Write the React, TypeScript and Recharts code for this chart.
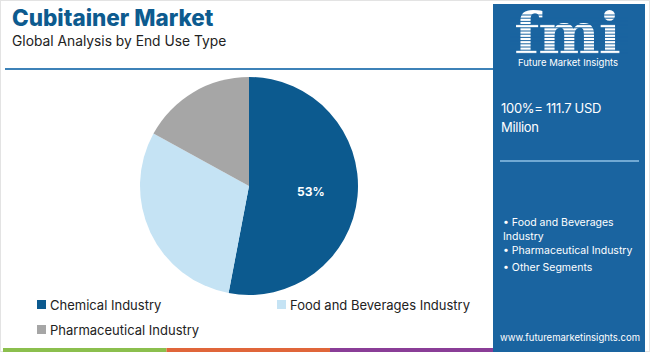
import React from "react";
import { PieChart, Pie, Cell, Legend } from "recharts";

const categories = ["Chemical Industry", "Food and Beverages Industry", "Pharmaceutical Industry"];
const shares = [53, 30, 17];
const colors = ["#0c5a8f", "#c5e3f4", "#a6a6a6"];
const panelBullets = ["Food and Beverages", "Industry", "Pharmaceutical Industry", "Other Segments"];
const bottomBars = ["#8bbf4d", "#e0663a", "#8a3d97"];

const data = categories.map((name, i) => ({ name, value: shares[i] }));

const PANEL = "#1a64a0";
const FONT = "Inter, 'Open Sans', sans-serif";

const RAD = Math.PI / 180;
const renderLabel = (props: any) => {
  const { cx, cy, midAngle, outerRadius, index, value } = props;
  if (index !== 0) return null;
  const r = outerRadius * 0.57;
  const x = cx + r * Math.cos(-midAngle * RAD);
  const y = cy + r * Math.sin(-midAngle * RAD);
  return (
    <text x={x} y={y} fill="#ffffff" fontSize={12} fontWeight={700} fontFamily={FONT} textAnchor="middle" dominantBaseline="central">
      {value}%
    </text>
  );
};

const LegendContent = () => {
  const pos = [
    { x: 37, y: 305 },
    { x: 277, y: 305 },
    { x: 37, y: 330 },
  ];
  return (
    <svg width={650} height={352} style={{ position: "absolute", left: 0, top: 0, pointerEvents: "none" }}>
      {categories.map((c, i) => (
        <g key={c}>
          <rect x={pos[i].x} y={pos[i].y - 5} width={9} height={9} fill={colors[i]} />
          <text x={pos[i].x + 13} y={pos[i].y} fontSize={13} fontFamily={FONT} fill="#222" dominantBaseline="central">
            {c}
          </text>
        </g>
      ))}
    </svg>
  );
};

const stripes: number[] = [];
for (let y = 15; y < 56; y += 3.2) stripes.push(y);

export default function App() {
  return (
    <div style={{ position: "fixed", left: 0, top: 0, width: 650, height: 352, background: "#fff", overflow: "hidden", fontFamily: FONT }}>
      <svg width={650} height={352} style={{ position: "absolute", left: 0, top: 0 }}>
        <rect x={0.5} y={0.5} width={649} height={351} fill="#fff" stroke="#e3e3e3" />
        <text x={12} y={26} fontSize={22.5} fontWeight={800} fill="#0d5b8f" fontFamily={FONT}>Cubitainer Market</text>
        <text x={12} y={46} fontSize={13.8} fill="#222" fontFamily={FONT}>Global Analysis by End Use Type</text>
        <line x1={5} y1={69} x2={493} y2={69} stroke="#3d82b8" strokeWidth={2} />
        {bottomBars.map((c, i) => (
          <rect key={c} x={3 + i * 163.5} y={348} width={163.5} height={4} fill={c} />
        ))}
        <rect x={493} y={4} width={152} height={348} fill={PANEL} />
        <text x={567} y={54} fontSize={58} fontWeight={700} fill="#fff" fontFamily="'DejaVu Serif', serif" textAnchor="middle" letterSpacing={-1}>fmi</text>
        {stripes.map((y) => (
          <line key={y} x1={510} y1={y} x2={628} y2={y} stroke={PANEL} strokeWidth={1} />
        ))}
        <text x={568} y={66} fontSize={9.5} fill="#fff" fontFamily={FONT} textAnchor="middle">Future Market Insights</text>
        <text x={501} y={113} fontSize={13} letterSpacing={-0.3} fill="#fff" fontFamily={FONT}>100%= 111.7 USD</text>
        <text x={501} y={132} fontSize={13} letterSpacing={-0.3} fill="#fff" fontFamily={FONT}>Million</text>
        <line x1={500} y1={161} x2={639} y2={161} stroke="#8fc0e6" strokeWidth={1.5} />
        <text x={503} y={226} fontSize={10.5} fill="#fff" fontFamily={FONT}>• {panelBullets[0]}</text>
        <text x={503} y={240} fontSize={10.5} fill="#fff" fontFamily={FONT}>{panelBullets[1]}</text>
        <text x={503} y={254} fontSize={10.5} fill="#fff" fontFamily={FONT}>• {panelBullets[2]}</text>
        <text x={503} y={271} fontSize={10.5} fill="#fff" fontFamily={FONT}>• {panelBullets[3]}</text>
        <text x={570} y={341} fontSize={9.5} fill="#fff" fontFamily={FONT} textAnchor="middle">www.futuremarketinsights.com</text>
      </svg>
      <div style={{ position: "absolute", left: 0, top: 0 }}>
        <PieChart width={650} height={352} margin={{ top: 0, right: 0, bottom: 0, left: 0 }}>
          <Pie
            data={data}
            dataKey="value"
            nameKey="name"
            cx={249}
            cy={186}
            outerRadius={109}
            startAngle={90}
            endAngle={-270}
            stroke="none"
            label={renderLabel}
            labelLine={false}
            isAnimationActive={false}
          >
            {data.map((d, i) => (
              <Cell key={d.name} fill={colors[i]} />
            ))}
          </Pie>
          <Legend content={() => null} />
        </PieChart>
      </div>
      <LegendContent />
    </div>
  );
}
